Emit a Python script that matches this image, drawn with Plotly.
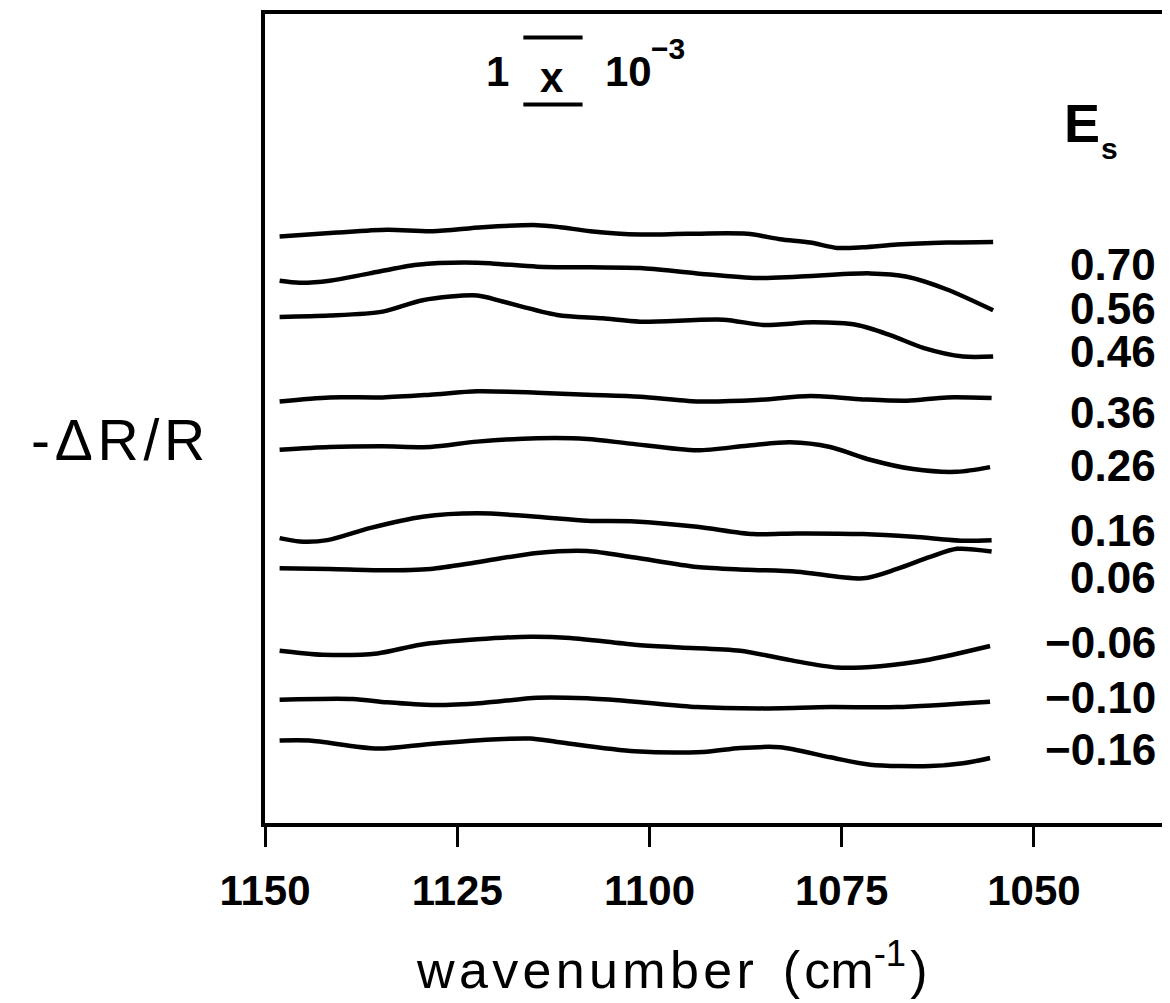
import plotly.graph_objects as go

# ---------------- data ----------------
# y values are -dR/R in units of 1e-3, curves vertically offset as in the figure
WN_070 = [1148.1, 1140.6, 1134.1, 1128.2, 1121.7, 1114.6, 1111.6, 1107.7, 1101.2, 1095.1, 1087.3, 1083.0, 1079.1, 1075.6, 1072.2, 1067.8, 1061.3, 1055.3]
Y_070 = [8.78, 8.84, 8.88, 8.86, 8.92, 8.95, 8.92, 8.86, 8.81, 8.82, 8.82, 8.74, 8.69, 8.61, 8.62, 8.66, 8.69, 8.70]

WN_056 = [1148.1, 1145.5, 1141.6, 1136.4, 1130.2, 1122.4, 1114.6, 1107.7, 1101.2, 1093.8, 1086.0, 1080.8, 1071.3, 1066.5, 1061.3, 1055.3]
Y_056 = [8.12, 8.09, 8.12, 8.23, 8.36, 8.39, 8.33, 8.32, 8.31, 8.23, 8.16, 8.18, 8.23, 8.18, 7.99, 7.68]

WN_046 = [1148.1, 1141.6, 1134.7, 1129.5, 1122.4, 1119.1, 1112.0, 1106.1, 1101.2, 1090.4, 1085.2, 1078.7, 1073.0, 1068.7, 1064.4, 1059.2, 1055.3]
Y_046 = [7.58, 7.60, 7.66, 7.83, 7.90, 7.81, 7.61, 7.56, 7.51, 7.54, 7.46, 7.50, 7.46, 7.31, 7.12, 6.99, 6.99]

WN_036 = [1148.1, 1141.6, 1134.7, 1128.5, 1122.4, 1114.6, 1108.1, 1101.2, 1093.8, 1086.0, 1079.1, 1072.2, 1066.5, 1061.3, 1055.5]
Y_036 = [6.32, 6.38, 6.38, 6.42, 6.47, 6.45, 6.42, 6.39, 6.32, 6.34, 6.40, 6.35, 6.33, 6.38, 6.37]

WN_026 = [1148.1, 1141.6, 1134.7, 1128.5, 1122.4, 1114.6, 1108.1, 1102.5, 1093.8, 1087.3, 1081.7, 1076.5, 1071.3, 1065.7, 1060.0, 1055.7]
Y_026 = [5.60, 5.64, 5.65, 5.64, 5.72, 5.77, 5.76, 5.69, 5.59, 5.66, 5.71, 5.64, 5.45, 5.31, 5.27, 5.34]

WN_016 = [1148.1, 1145.5, 1141.9, 1136.4, 1129.5, 1122.4, 1114.6, 1108.1, 1101.9, 1093.8, 1086.5, 1080.8, 1072.2, 1065.7, 1059.2, 1055.5]
Y_016 = [4.28, 4.23, 4.25, 4.43, 4.60, 4.65, 4.60, 4.54, 4.53, 4.45, 4.34, 4.35, 4.34, 4.30, 4.24, 4.25]

WN_006 = [1148.1, 1141.6, 1134.7, 1128.5, 1122.4, 1114.6, 1108.1, 1101.9, 1093.8, 1087.3, 1080.8, 1072.2, 1067.8, 1063.5, 1060.0, 1055.5]
Y_006 = [3.83, 3.82, 3.80, 3.82, 3.92, 4.06, 4.09, 3.99, 3.85, 3.81, 3.78, 3.68, 3.82, 4.00, 4.12, 4.08]

WN_M006 = [1148.1, 1142.5, 1135.4, 1129.8, 1122.4, 1115.5, 1110.3, 1101.9, 1096.0, 1088.2, 1081.7, 1075.6, 1070.0, 1063.5, 1055.7]
Y_M006 = [2.60, 2.54, 2.56, 2.69, 2.77, 2.81, 2.79, 2.69, 2.65, 2.60, 2.46, 2.35, 2.37, 2.47, 2.67]

WN_M010 = [1148.1, 1138.6, 1134.1, 1128.2, 1121.7, 1114.6, 1108.1, 1101.9, 1093.8, 1085.6, 1076.5, 1067.8, 1055.7]
Y_M010 = [1.87, 1.88, 1.83, 1.79, 1.82, 1.90, 1.89, 1.84, 1.76, 1.74, 1.76, 1.76, 1.84]

WN_M016 = [1148.1, 1144.2, 1135.4, 1128.5, 1119.8, 1115.5, 1112.0, 1101.9, 1093.0, 1088.2, 1083.0, 1076.5, 1071.3, 1063.5, 1059.2, 1055.7]
Y_M016 = [1.26, 1.26, 1.14, 1.21, 1.28, 1.29, 1.24, 1.10, 1.09, 1.15, 1.16, 1.01, 0.90, 0.88, 0.92, 1.00]

SERIES = [
    (WN_070, Y_070), (WN_056, Y_056), (WN_046, Y_046), (WN_036, Y_036),
    (WN_026, Y_026), (WN_016, Y_016), (WN_006, Y_006), (WN_M006, Y_M006),
    (WN_M010, Y_M010), (WN_M016, Y_M016),
]

E_LABELS = ["0.70", "0.56", "0.46", "0.36", "0.26", "0.16", "0.06", "−0.06", "−0.10", "−0.16"]
TICK_VALS = [1150, 1125, 1100, 1075, 1050]
TICK_TEXT = ["1150", "1125", "1100", "1075", "1050"]
SCALE_BAR = 1.0  # 1 x 10^-3

# ---------------- layout / style ----------------
LABEL_Y = [8.36, 7.70, 7.06, 6.15, 5.36, 4.40, 3.69, 2.72, 1.90, 1.12]
FONT = "Liberation Sans"
X_RANGE = [1150, 1032.3]
Y_RANGE = [0.03, 12.10]
BAR_LOW = 10.75
BAR_X = [1116.4, 1108.7]
HS = "\u200a"  # hair space for letter spacing


def spaced(s):
    return HS.join(list(s))


fig = go.Figure()
for wn, yv in SERIES:
    fig.add_trace(go.Scatter(
        x=wn, y=yv, mode="lines",
        line=dict(color="black", width=4.5, shape="spline", smoothing=0.8),
        showlegend=False, hoverinfo="skip",
    ))

# scale bar (two horizontal strokes 1e-3 apart)
for yb in (BAR_LOW, BAR_LOW + SCALE_BAR):
    fig.add_shape(type="line", xref="x", yref="y",
                  x0=BAR_X[0], x1=BAR_X[1], y0=yb, y1=yb,
                  line=dict(color="black", width=4))

ann = []
for txt, yl in zip(E_LABELS, LABEL_Y):
    ann.append(dict(text=txt, xref="paper", yref="y", x=0.9867, y=yl,
                    xanchor="right", yanchor="middle", showarrow=False,
                    font=dict(family=FONT, size=44, color="black", weight="bold")))

ann.append(dict(text="E", xref="paper", yref="y", x=0.8807, y=10.47,
                xanchor="left", yanchor="middle", showarrow=False,
                font=dict(family=FONT, size=54, color="black", weight="bold")))
ann.append(dict(text="s", xref="paper", yref="y", x=0.9215, y=10.10,
                xanchor="left", yanchor="middle", showarrow=False,
                font=dict(family=FONT, size=30, color="black", weight="bold")))

ann.append(dict(text="1", xref="paper", yref="y", x=0.2564, y=11.24,
                xanchor="center", yanchor="middle", showarrow=False,
                font=dict(family=FONT, size=42, color="black", weight="bold")))
ann.append(dict(text="x", xref="paper", yref="y", x=0.3171, y=11.16,
                xanchor="center", yanchor="middle", showarrow=False,
                font=dict(family=FONT, size=42, color="black", weight="bold")))
ann.append(dict(text="10", xref="paper", yref="y", x=0.3735, y=11.24,
                xanchor="left", yanchor="middle", showarrow=False,
                font=dict(family=FONT, size=42, color="black", weight="bold")))
ann.append(dict(text="−3", xref="paper", yref="y", x=0.4240, y=11.58,
                xanchor="left", yanchor="middle", showarrow=False,
                font=dict(family=FONT, size=30, color="black", weight="bold")))

ann.append(dict(text=spaced("-ΔR/R"), xref="paper", yref="y", x=-0.162, y=5.75,
                xanchor="center", yanchor="middle", showarrow=False,
                font=dict(family=FONT, size=57, color="black")))

ann.append(dict(text=spaced("wavenumber") + "  (" + HS + "cm<sup>-1</sup>" + HS + ")",
                xref="paper", yref="paper",
                x=0.45, y=-0.133, xanchor="center", yanchor="top", showarrow=False,
                font=dict(family=FONT, size=52, color="black")))

fig.update_layout(
    width=1162, height=995,
    margin=dict(l=257, r=0, t=6, b=180),
    paper_bgcolor="white", plot_bgcolor="white",
    annotations=ann,
    xaxis=dict(range=X_RANGE, tickvals=TICK_VALS, ticktext=TICK_TEXT,
               showline=True, linecolor="black", linewidth=4, mirror=True,
               ticks="outside", ticklen=20, tickwidth=3, tickcolor="black",
               showgrid=False, zeroline=False, ticklabelstandoff=8,
               tickfont=dict(family=FONT, size=42, color="black", weight="bold")),
    yaxis=dict(range=Y_RANGE, showline=True, linecolor="black", linewidth=4,
               mirror=False, showticklabels=False, ticks="", showgrid=False,
               zeroline=False),
)

fig.write_html("out.html")
